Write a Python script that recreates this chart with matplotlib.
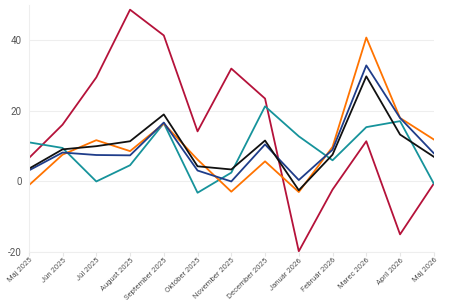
import matplotlib
matplotlib.use('Agg')
from matplotlib import pyplot as plt

plt.rcParams['font.family'] = ['Roboto', 'DejaVu Sans']
plt.rcParams['axes.unicode_minus'] = False

months = ['Máj 2025', 'Jún 2025', 'Júl 2025', 'August 2025', 'September 2025',
          'Október 2025', 'November 2025', 'December 2025', 'Január 2026',
          'Február 2026', 'Marec 2026', 'Apríl 2026', 'Máj 2026']

red = [6.6, 16.1, 29.5, 48.7, 41.4, 14.2, 32.0, 23.5, -19.8, -2.3, 11.4, -15.0, -0.6]
black = [3.6, 9.1, 10.0, 11.4, 19.0, 4.3, 3.4, 11.6, -2.5, 7.6, 29.8, 13.3, 7.0]
blue = [3.1, 8.2, 7.5, 7.4, 16.7, 3.1, 0.0, 10.5, 0.4, 9.0, 32.9, 18.0, 8.0]
orange = [-1.1, 7.6, 11.7, 8.6, 16.4, 6.2, -2.9, 5.7, -3.0, 9.8, 40.8, 18.0, 11.9]
teal = [11.1, 9.5, 0.0, 4.6, 16.5, -3.2, 2.5, 21.3, 12.8, 6.0, 15.4, 17.1, -0.6]

series = [(red, '#b5123a'), (teal, '#16939b'), (orange, '#ff7300'),
          (blue, '#1f3d8a'), (black, '#111111')]

fig = plt.figure(figsize=(4.5, 3), dpi=100)
ax = fig.add_axes([0.064, 0.16, 0.9, 0.823])

x = list(range(len(months)))
for vals, col in series:
    ax.plot(x, vals, color=col, lw=1.3)

ax.set_xlim(0, len(months) - 1)
ax.set_ylim(-20, 50)
ax.set_yticks([-20, 0, 20, 40])
ax.yaxis.grid(True, color='#eeeeee', lw=0.8)
ax.set_axisbelow(True)
for s in ['top', 'right']:
    ax.spines[s].set_visible(False)
ax.spines['left'].set_color('#eeeeee')
ax.spines['bottom'].set_color('#eeeeee')
ax.tick_params(axis='y', length=0, labelsize=7, labelcolor='#555555', pad=5)
ax.tick_params(axis='x', length=3, color='#e6e6e6', labelsize=5.5, labelcolor='#555555', pad=0.5)
ax.set_xticks(x)
ax.set_xticklabels(months, rotation=45, ha='right', rotation_mode='anchor')

plt.savefig('out.png', dpi=100)
